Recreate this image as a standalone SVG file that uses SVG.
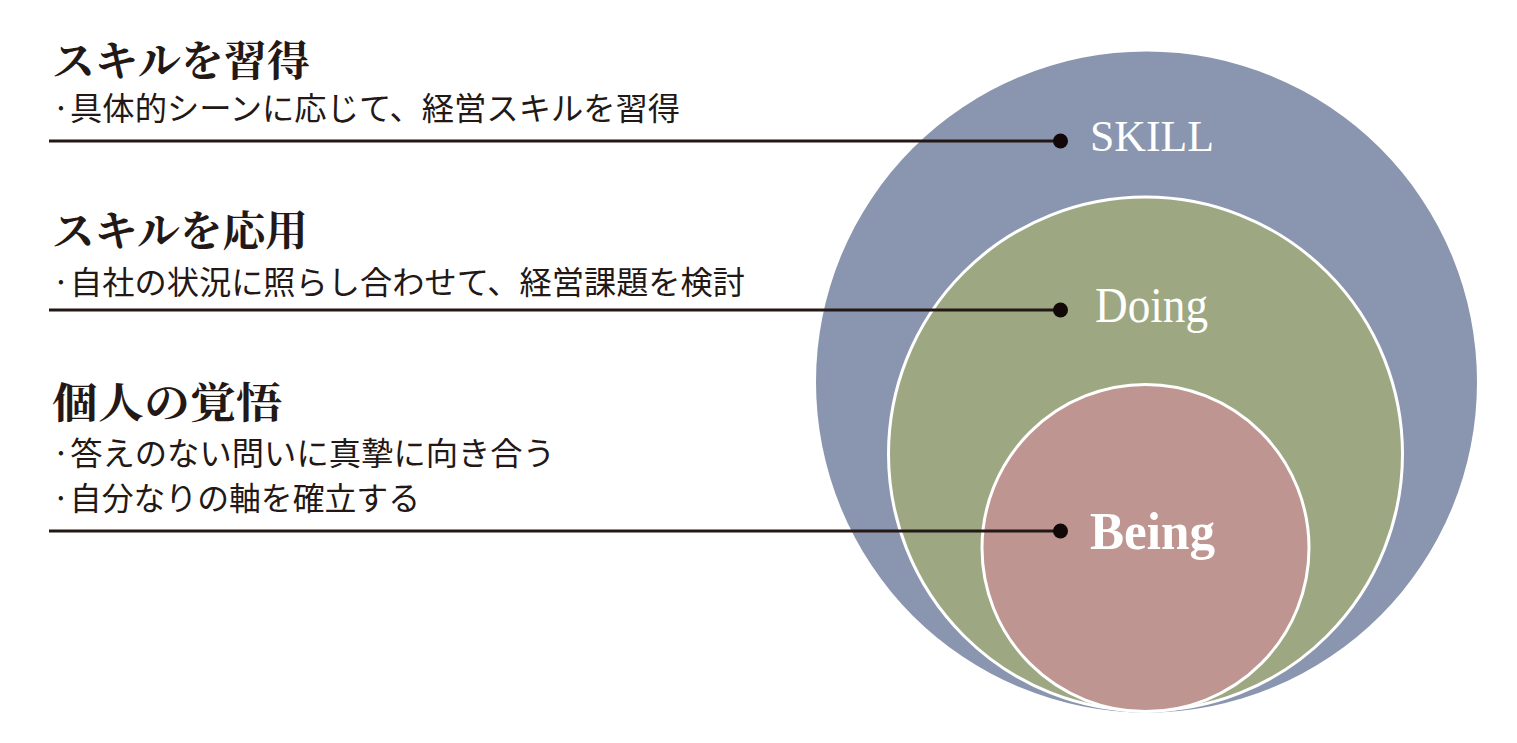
<svg xmlns="http://www.w3.org/2000/svg" width="1517" height="743" viewBox="0 0 1517 743">
<style>
.h{font-family:"Noto Serif CJK JP","Noto Sans CJK JP",sans-serif;font-weight:700;font-size:42px;fill:#231815}
.s{font-family:"Noto Sans CJK JP",sans-serif;font-weight:400;font-size:32px;fill:#231815}
.lbl{font-family:"Liberation Serif",serif;fill:#ffffff}
.ln{stroke:#231815;stroke-width:3;fill:none}
.dot{fill:#120808}
.ring{stroke:#ffffff;stroke-width:3}
</style>
<rect width="1517" height="743" fill="#ffffff"/>
<g id="circle-skill">
<circle cx="1146.5" cy="382" r="330.5" fill="#8A96AF"/>
</g>
<g id="circle-doing">
<circle class="ring" cx="1145.5" cy="454" r="257" fill="#9DA882"/>
</g>
<g id="circle-being">
<circle class="ring" cx="1145.5" cy="548" r="163.5" fill="#BE9590"/>
</g>
<g id="connectors">
<line class="ln" x1="49" y1="141" x2="1060" y2="141"/>
<line class="ln" x1="49" y1="310" x2="1060" y2="310"/>
<line class="ln" x1="49" y1="531" x2="1060" y2="531"/>
<circle class="dot" cx="1060.5" cy="141" r="7.5"/>
<circle class="dot" cx="1060.5" cy="310" r="7.5"/>
<circle class="dot" cx="1060.5" cy="531" r="7.5"/>
</g>
<g id="label-skill">
<text class="lbl" x="1090" y="151" font-size="44" textLength="124" lengthAdjust="spacingAndGlyphs">SKILL</text>
</g>
<g id="label-doing">
<text class="lbl" x="1095" y="322" font-size="50" textLength="113" lengthAdjust="spacingAndGlyphs">Doing</text>
</g>
<g id="label-being">
<text class="lbl" x="1090" y="549" font-size="52" font-weight="700" textLength="125" lengthAdjust="spacingAndGlyphs">Being</text>
</g>
<g id="item-skill">
<text class="h" x="52" y="76" textLength="258" lengthAdjust="spacingAndGlyphs">スキルを習得</text>
<text class="s" x="52" y="120" textLength="628" lengthAdjust="spacingAndGlyphs">·具体的シーンに応じて、経営スキルを習得</text>
</g>
<g id="item-doing">
<text class="h" x="52" y="246" textLength="256" lengthAdjust="spacingAndGlyphs">スキルを応用</text>
<text class="s" x="52" y="294" textLength="693" lengthAdjust="spacingAndGlyphs">·自社の状況に照らし合わせて、経営課題を検討</text>
</g>
<g id="item-being">
<text class="h" x="52" y="418" font-size="44" textLength="230" lengthAdjust="spacingAndGlyphs">個人の覚悟</text>
<text class="s" x="52" y="465" textLength="503" lengthAdjust="spacingAndGlyphs">·答えのない問いに真摯に向き合う</text>
<text class="s" x="52" y="510" textLength="368" lengthAdjust="spacingAndGlyphs">·自分なりの軸を確立する</text>
</g>
</svg>
